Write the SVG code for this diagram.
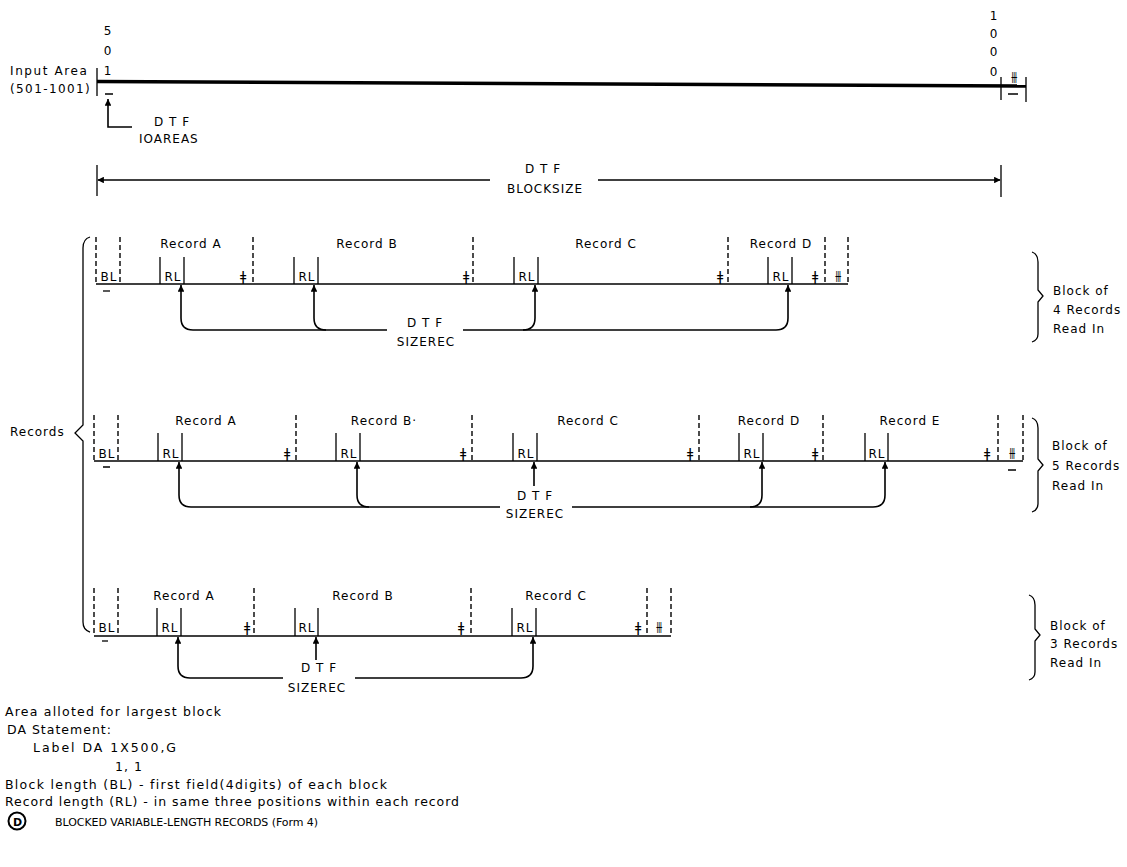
<svg xmlns="http://www.w3.org/2000/svg" width="1127" height="867" viewBox="0 0 1127 867">
<style>
.t{font-family:"DejaVu Sans","Liberation Sans",sans-serif;font-size:12px;letter-spacing:1px;fill:#000}
.m{text-anchor:middle}
.b{font-size:12.5px}
.mk{font-family:"DejaVu Sans",sans-serif;font-size:13.5px;fill:#000;text-anchor:middle}
.d{stroke:#000;stroke-width:1.4;stroke-dasharray:5 3;fill:none}
.l{stroke:#000;stroke-width:1.3;fill:none}
.base{stroke:#000;stroke-width:1.5;fill:none}
.c{stroke:#000;stroke-width:1.6;fill:none;marker-start:url(#ah)}
.c2{stroke:#000;stroke-width:1.6;fill:none}
</style>
<defs>
<marker id="ah" viewBox="0 0 10 10" refX="10" refY="5" markerWidth="5.5" markerHeight="4.2" markerUnits="strokeWidth" orient="auto-start-reverse"><path d="M0,0 L10,5 L0,10 z" fill="#000"/></marker>
<marker id="ah2" viewBox="0 0 10 10" refX="9" refY="5" markerWidth="7" markerHeight="5" markerUnits="strokeWidth" orient="auto-start-reverse"><path d="M0,0 L10,5 L0,10 z" fill="#000"/></marker>
</defs>
<rect width="1127" height="867" fill="#fff"/>

<g id="input-area">
<text class="t" x="10" y="75" style="letter-spacing:1.6px">Input Area</text>
<text class="t" x="10" y="93" style="letter-spacing:1.4px">(501-1001)</text>
<text class="t m" x="108" y="35">5</text>
<text class="t m" x="108" y="55">0</text>
<text class="t m" x="108" y="75">1</text>
<text class="t m" x="994" y="20">1</text>
<text class="t m" x="994" y="38">0</text>
<text class="t m" x="994" y="56">0</text>
<text class="t m" x="994" y="76">0</text>
<path d="M97,81.5 L1026,86" stroke="#000" stroke-width="3.6" fill="none"/>
<path class="l" d="M97,68 V96 M1001,77 V100 M1026,77 V102"/>
<text class="mk" x="1014" y="82">⫵</text>
<path class="l" d="M105,94 H113 M1008,94 H1018"/>
<path class="c2" d="M108,99 V127 H132" marker-start="url(#ah)"/>
<text class="t" x="154" y="126">D T F</text>
<text class="t" x="139" y="143">IOAREAS</text>
</g>

<g id="blocksize">
<path class="l" d="M97,165 V196 M1001,165 V197"/>
<path class="l" d="M98,180 H490" marker-start="url(#ah2)"/>
<path class="l" d="M598,180 H1000" marker-end="url(#ah2)"/>
<text class="t m" x="543" y="173">D T F</text>
<text class="t m" x="545" y="193">BLOCKSIZE</text>
</g>

<g id="records-brace">
<path class="l" d="M90,237 Q83,239 83,248 V425 L75,433 L83,441 V622 Q83,630 90,632"/>
<text class="t" x="10" y="436">Records</text>
</g>

<g id="block1">
<path class="base" d="M96,284 H848"/>
<path class="d" d="M96,237 V284 M120,237 V284 M253,237 V284 M473,237 V284 M728,237 V284 M825,237 V284 M848,237 V284"/>
<path class="l" d="M160,257 V284 M184,257 V284 M294,257 V284 M318,257 V284 M514,257 V284 M538,257 V284 M768,257 V284 M792,257 V284"/>
<text class="t m" x="109" y="281">BL</text>
<path class="l" d="M103,291 H110"/>
<text class="t m" x="173" y="281">RL</text>
<text class="t m" x="307" y="281">RL</text>
<text class="t m" x="527" y="281">RL</text>
<text class="t m" x="781" y="281">RL</text>
<text class="mk" x="243" y="281">ǂ</text>
<text class="mk" x="466" y="281">ǂ</text>
<text class="mk" x="720" y="281">ǂ</text>
<text class="mk" x="815" y="281">ǂ</text>
<text class="mk" x="838" y="281">⫵</text>
<text class="t m" x="191" y="248">Record A</text>
<text class="t m" x="367" y="248">Record B</text>
<text class="t m" x="606" y="248">Record C</text>
<text class="t m" x="781" y="248">Record D</text>
<text class="t m" x="425" y="327">D T F</text>
<text class="t m" x="426" y="346">SIZEREC</text>
<path class="l" d="M1032,252 Q1038,254 1038,262 V290 L1043,296 L1038,302 V334 Q1038,340 1032,342"/>
<text class="t" x="1053" y="295">Block of</text>
<text class="t" x="1053" y="314">4 Records</text>
<text class="t" x="1053" y="333">Read In</text>
</g>

<g id="block2">
<path class="base" d="M94,461 H1023"/>
<path class="d" d="M94,415 V461 M118,415 V461 M296,415 V461 M472,415 V461 M699,415 V461 M823,415 V461 M998,415 V461 M1023,415 V461"/>
<path class="l" d="M158,433 V461 M182,433 V461 M336,433 V461 M360,433 V461 M513,433 V461 M537,433 V461 M739,433 V461 M763,433 V461 M865,433 V461 M888,433 V461"/>
<text class="t m" x="107" y="458">BL</text>
<path class="l" d="M103,467 H110 M1008,470 H1016"/>
<text class="t m" x="171" y="458">RL</text>
<text class="t m" x="349" y="458">RL</text>
<text class="t m" x="526" y="458">RL</text>
<text class="t m" x="752" y="458">RL</text>
<text class="t m" x="877" y="458">RL</text>
<text class="mk" x="287" y="458">ǂ</text>
<text class="mk" x="463" y="458">ǂ</text>
<text class="mk" x="690" y="458">ǂ</text>
<text class="mk" x="815" y="458">ǂ</text>
<text class="mk" x="987" y="458">ǂ</text>
<text class="mk" x="1012" y="458">⫵</text>
<text class="t m" x="206" y="425">Record A</text>
<text class="t m" x="384" y="425">Record B·</text>
<text class="t m" x="588" y="425">Record C</text>
<text class="t m" x="769" y="425">Record D</text>
<text class="t m" x="910" y="425">Record E</text>
<text class="t m" x="535" y="500">D T F</text>
<text class="t m" x="535" y="518">SIZEREC</text>
<path class="l" d="M1032,418 Q1038,420 1038,428 V459 L1043,465 L1038,471 V504 Q1038,510 1032,512"/>
<text class="t" x="1052" y="450">Block of</text>
<text class="t" x="1052" y="470">5 Records</text>
<text class="t" x="1052" y="490">Read In</text>
</g>

<g id="block3">
<path class="base" d="M94,636 H671"/>
<path class="d" d="M94,588 V636 M118,588 V636 M254,588 V636 M471,588 V636 M647,588 V636 M671,588 V636"/>
<path class="l" d="M157,608 V636 M181,608 V636 M295,608 V636 M318,608 V636 M512,608 V636 M536,608 V636"/>
<text class="t m" x="107" y="632">BL</text>
<path class="l" d="M102,641 H108"/>
<text class="t m" x="170" y="632">RL</text>
<text class="t m" x="307" y="632">RL</text>
<text class="t m" x="525" y="632">RL</text>
<text class="mk" x="247" y="632">ǂ</text>
<text class="mk" x="461" y="632">ǂ</text>
<text class="mk" x="638" y="632">ǂ</text>
<text class="mk" x="659" y="632">⫵</text>
<text class="t m" x="184" y="600">Record A</text>
<text class="t m" x="363" y="600">Record B</text>
<text class="t m" x="556" y="600">Record C</text>
<text class="t m" x="319" y="672">D T F</text>
<text class="t m" x="317" y="692">SIZEREC</text>
<path class="l" d="M1029,595 Q1035,597 1035,605 V629 L1040,635 L1035,641 V672 Q1035,678 1029,680"/>
<text class="t" x="1050" y="630">Block of</text>
<text class="t" x="1050" y="648">3 Records</text>
<text class="t" x="1050" y="667">Read In</text>
</g>

<g id="connectors">
<path class="c" d="M181,285 V318 Q181,330 193,330 H387"/>
<path class="c" d="M314,285 V318 Q314,330 326,330"/>
<path class="c" d="M535,285 V318 Q535,330 523,330 H463"/>
<path class="c" d="M788,285 V318 Q788,330 776,330 H523"/>
<path class="c" d="M179,462 V495 Q179,507 191,507 H500"/>
<path class="c" d="M357,462 V495 Q357,507 369,507"/>
<path class="c" d="M534,462 V486"/>
<path class="c" d="M762,462 V495 Q762,507 750,507 H572"/>
<path class="c" d="M885,462 V495 Q885,507 873,507 H750"/>
<path class="c" d="M178,637 V666 Q178,678 190,678 H283"/>
<path class="c" d="M316,637 V660"/>
<path class="c" d="M533,637 V666 Q533,678 521,678 H355"/>
</g>

<g id="notes">
<text class="t b" x="5" y="716" textLength="217">Area alloted for largest block</text>
<text class="t b" x="7" y="734">DA Statement:</text>
<text class="t b" x="33" y="752" textLength="144">Label DA 1X500,G</text>
<text class="t b" x="115" y="771">1, 1</text>
<text class="t b" x="5" y="789" textLength="383">Block length (BL) - first field(4digits) of each block</text>
<text class="t b" x="5" y="806" textLength="455">Record length (RL) - in same three positions within each record</text>
<circle cx="17" cy="821" r="8.5" stroke="#000" stroke-width="2" fill="none"/>
<text class="t m" x="17.5" y="825.5" style="font-size:11px;font-weight:bold;letter-spacing:0">D</text>
<text class="t" x="55" y="826" style="font-size:11px;letter-spacing:0" textLength="263">BLOCKED VARIABLE-LENGTH RECORDS (Form 4)</text>
</g>
</svg>
